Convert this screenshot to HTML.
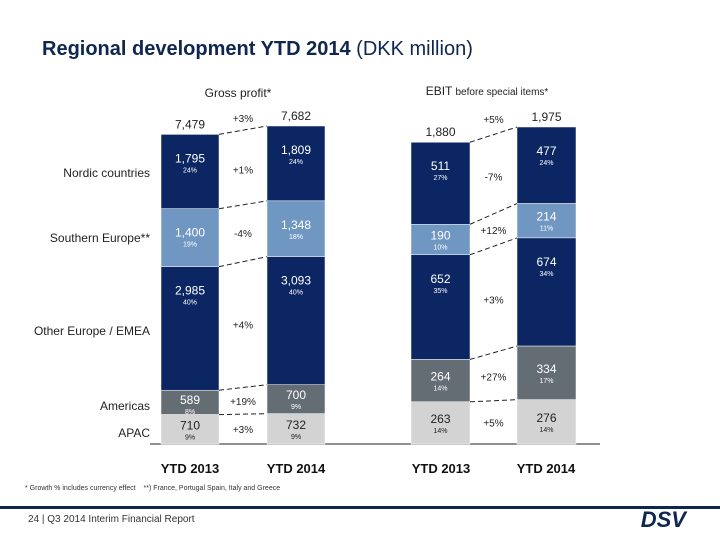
<!DOCTYPE html>
<html><head><meta charset="utf-8"><style>
body{margin:0;width:720px;height:540px;background:#fff;overflow:hidden;font-family:"Liberation Sans",sans-serif;}
svg{position:absolute;left:0;top:0}
</style></head><body>
<svg id="c" width="720" height="540">
<text x="42" y="55" font-size="20" fill="#0f2650" font-weight="bold">Regional development YTD 2014 <tspan font-weight="normal">(DKK million)</tspan></text>
<text x="238" y="97" font-size="12" fill="#222" text-anchor="middle">Gross profit*</text>
<text x="487" y="95" font-size="12" fill="#222" text-anchor="middle">EBIT <tspan font-size="10">before special items*</tspan></text>
<g font-size="12" fill="#222" text-anchor="end">
<text x="150" y="177">Nordic countries</text>
<text x="150" y="242">Southern Europe**</text>
<text x="150" y="335">Other Europe / EMEA</text>
<text x="150" y="410">Americas</text>
<text x="150" y="437">APAC</text>
</g>
<line x1="150" y1="444" x2="600" y2="444" stroke="#222" stroke-width="1"/>
<g font-size="13" font-weight="bold" fill="#111" text-anchor="middle">
<text x="190" y="473">YTD 2013</text><text x="296" y="473">YTD 2014</text>
<text x="441" y="473">YTD 2013</text><text x="546" y="473">YTD 2014</text>
</g>
<text x="25" y="490" font-size="7" fill="#333">* Growth % includes currency effect &#160;&#160; **) France, Portugal Spain, Italy and Greece</text>
<rect x="0" y="506" width="720" height="3" fill="#0f2650"/>
<text x="28" y="522" font-size="10" fill="#333">24 | Q3 2014 Interim Financial Report</text>
<text x="686" y="527" font-size="22" font-weight="bold" font-style="italic" fill="#0f2650" text-anchor="end">DSV</text>
</svg>
<script>
const regions=["Nordic","Southern Europe","Other Europe","Americas","APAC"];
const gp2013=[1795,1400,2985,589,710];
const gp2014=[1809,1348,3093,700,732];
const gpPct2013=["24%","19%","40%","8%","9%"];
const gpPct2014=["24%","18%","40%","9%","9%"];
const gpGrowth=["+1%","-4%","+4%","+19%","+3%"];
const gpTotals=[7479,7682];const gpTotalGrowth="+3%";
const eb2013=[511,190,652,264,263];
const eb2014=[477,214,674,334,276];
const ebPct2013=["27%","10%","35%","14%","14%"];
const ebPct2014=["24%","11%","34%","17%","14%"];
const ebGrowth=["-7%","+12%","+3%","+27%","+5%"];
const ebTotals=[1880,1975];const ebTotalGrowth="+5%";
const colors=["#0b2662","#7096c2","#0b2662","#646c74","#d3d3d3"];
const txtCol=["#fff","#fff","#fff","#fff","#222"];
const svg=document.getElementById('c');const NS="http://www.w3.org/2000/svg";
function mk(t,a,p){const e=document.createElementNS(NS,t);for(const k in a)e.setAttribute(k,a[k]);(p||svg).appendChild(e);return e;}
const base=444;
function panel(name,v13,v14,p13,p14,gr,tot,tg,x1,x2,w,maxH){
 const s=maxH/Math.max(tot[0],tot[1]);const y=v=>v*s;
 const g=mk('g',{});
 const cols=[[v13,p13,x1],[v14,p14,x2]];const tops=[[],[]];
 cols.forEach((c,ci)=>{let cum=0;const sum=c[0].reduce((a,b)=>a+b,0);
  c[0].forEach((v,i)=>{const top=base-y(sum-cum);const h=y(v);tops[ci].push(top);
   const r=mk('rect',{x:c[2],y:top,width:w,height:h,fill:colors[i],stroke:'#fff','stroke-width':0.5},g);
   
   const cy=top+Math.min(h/2,22)+ (h<30?-2:0);
   const t=mk('text',{x:c[2]+w/2,y:top+Math.max(14,Math.min(h/2,28)),'font-size':12,fill:txtCol[i],'text-anchor':'middle'},g);t.textContent=v.toLocaleString('en-US');
   const p=mk('text',{x:c[2]+w/2,y:top+Math.max(14,Math.min(h/2,28))+10,'font-size':7,fill:txtCol[i],'text-anchor':'middle'},g);p.textContent=c[1][i];
   cum+=v;});
  tops[ci].push(base);
  const tt=mk('text',{x:c[2]+w/2,y:tops[ci][0]-6,'font-size':12,fill:'#222','text-anchor':'middle'},g);tt.textContent=tot[ci].toLocaleString('en-US');
 });
 for(let i=0;i<5;i++){mk('line',{x1:x1+w,y1:tops[0][i],x2:x2,y2:tops[1][i],stroke:'#222','stroke-dasharray':'5,3','stroke-width':1},g);
  const my=(tops[0][i]+tops[0][i+1]+tops[1][i]+tops[1][i+1])/4;
  const gt=mk('text',{x:(x1+w+x2)/2,y:i==0?my+6:my+4,'font-size':10,fill:'#222','text-anchor':'middle'},g);gt.textContent=gr[i];}
 const t2=mk('text',{x:(x1+w+x2)/2,y:Math.min(tops[0][0],tops[1][0])-4,'font-size':10,fill:'#222','text-anchor':'middle'},g);t2.textContent=tg;
}
panel('gross-profit',gp2013,gp2014,gpPct2013,gpPct2014,gpGrowth,gpTotals,gpTotalGrowth,161,267,58,318);
panel('ebit',eb2013,eb2014,ebPct2013,ebPct2014,ebGrowth,ebTotals,ebTotalGrowth,411,517,59,317);
</script>
</body></html>
